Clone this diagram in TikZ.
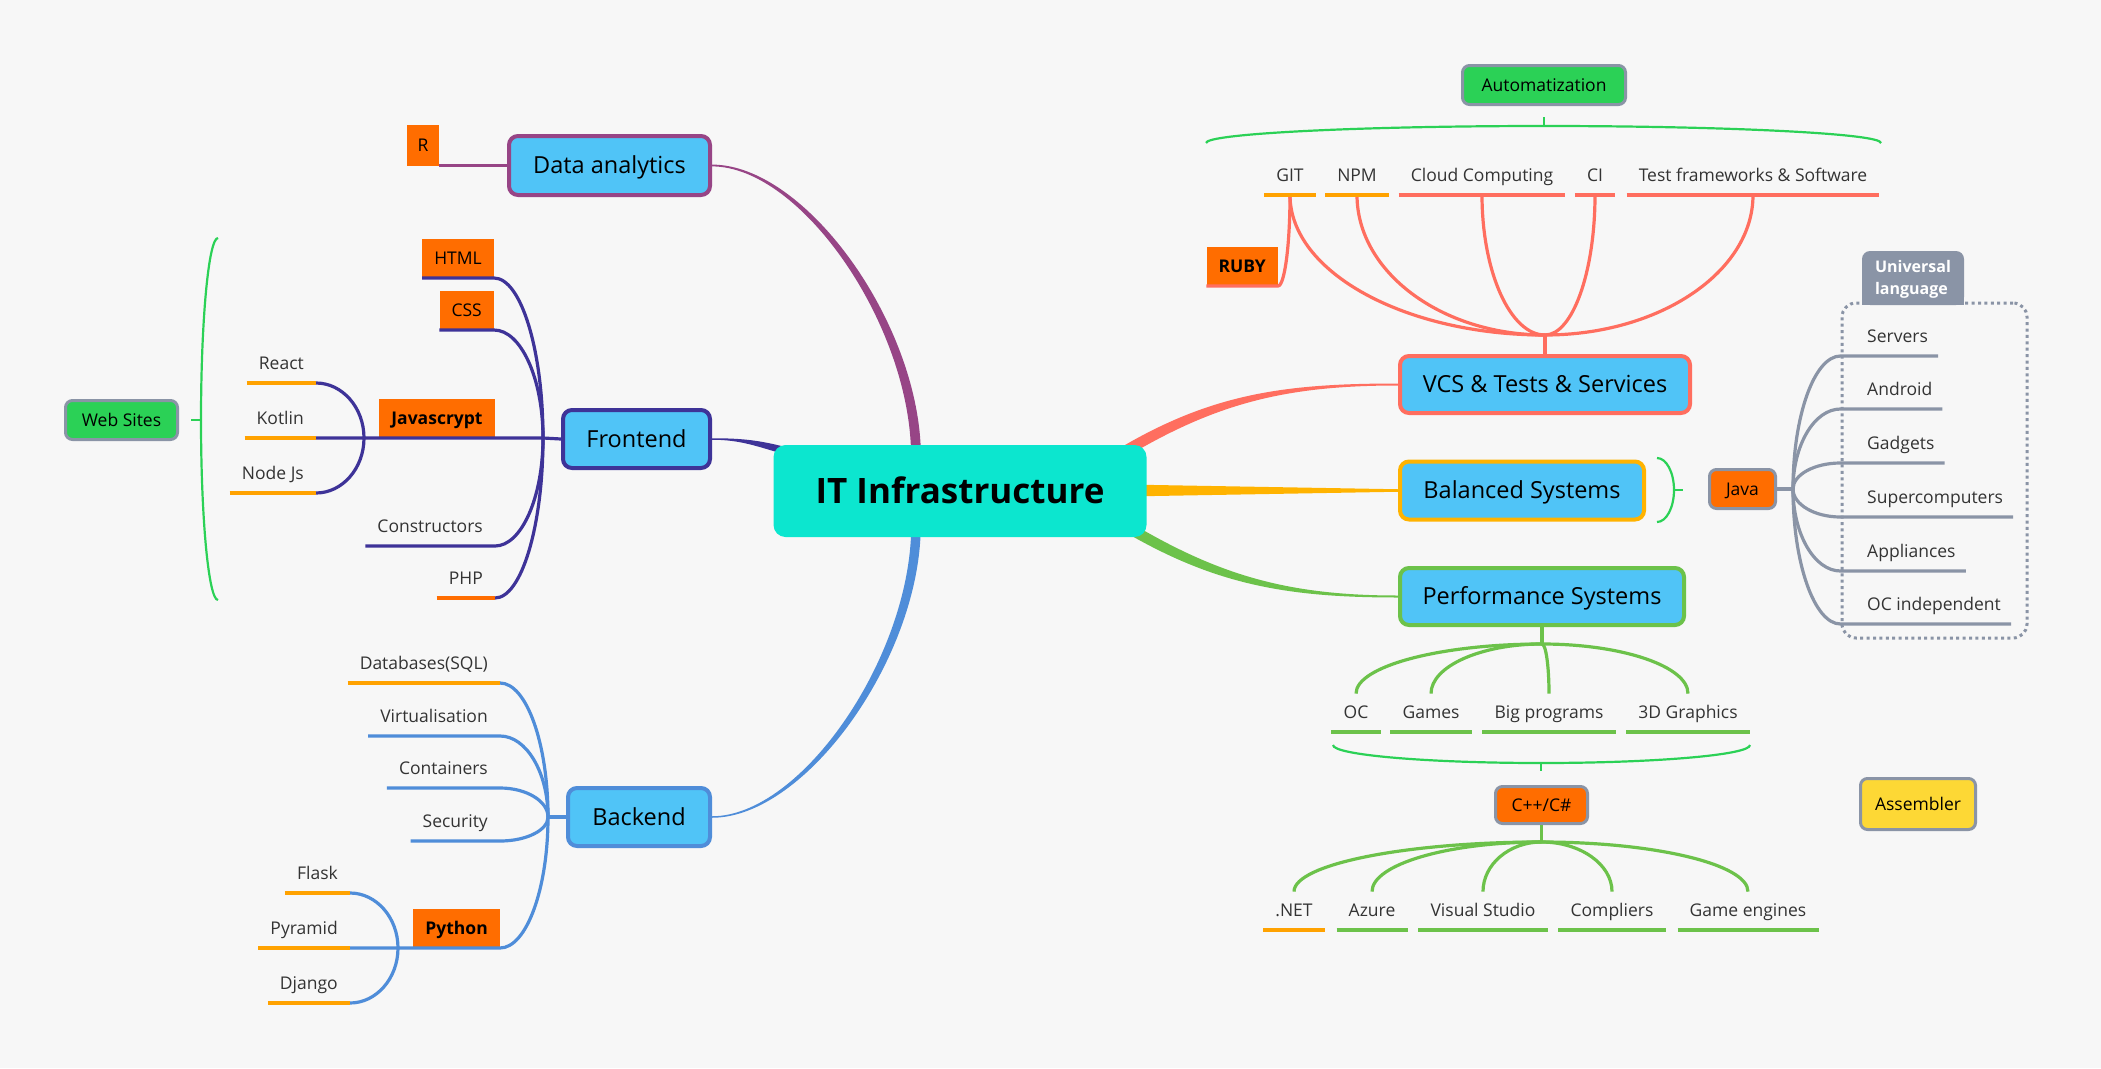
\documentclass[tikz,border=0pt]{standalone}
\usepackage{fontspec}
\setmainfont{Open Sans}
\usetikzlibrary{calc,backgrounds}
\definecolor{itBg}{HTML}{F7F7F7}
\definecolor{itCore}{HTML}{0CE6CF}
\definecolor{itBox}{HTML}{50C4F7}
\definecolor{itPlum}{HTML}{974586}
\definecolor{itIndigo}{HTML}{3E3398}
\definecolor{itBlue}{HTML}{4F8DD9}
\definecolor{itSalmon}{HTML}{FF6E5F}
\definecolor{itAmber}{HTML}{FFB300}
\definecolor{itGreen}{HTML}{6CC24A}
\definecolor{itLime}{HTML}{2BD156}
\definecolor{itOrange}{HTML}{FF6D00}
\definecolor{itGold}{HTML}{FFA200}
\definecolor{itSlate}{HTML}{8A94A6}
\definecolor{itYellow}{HTML}{FDD835}
\definecolor{itInk}{HTML}{333333}
\tikzset{
  core/.style={rounded corners=12pt, fill=itCore, minimum width=373pt, minimum height=92pt,
              text height=25pt, text depth=0pt, font=\fontsize{35}{40}\selectfont\bfseries},
  topic/.style={rounded corners=9pt, fill=itBox, line width=4pt, inner sep=0pt,
              text height=16.5pt, text depth=0pt, font=\fontsize{23.5}{28}\selectfont},
  tag/.style={fill=itOrange, inner xsep=12pt, inner ysep=0pt, minimum height=39pt,
              text height=12.5pt, text depth=0pt, font=\fontsize{17.5}{21}\selectfont},
  pill/.style={rounded corners=7pt, draw=itSlate, line width=3pt, inner sep=0pt,
              text height=12.5pt, text depth=0pt, font=\fontsize{17.5}{21}\selectfont},
  leaf/.style={inner xsep=12pt, inner ysep=6pt, text height=12.5pt, text depth=7pt,
              text=itInk, font=\fontsize{17.5}{21}\selectfont},
  dropleaf/.style={leaf, text height=19pt},
  twig/.style={line width=3.2pt},
  uline/.style={line width=3.6pt},
  brace/.style={draw=itLime, line width=2.2pt},
  elbowv/.style={to path={.. controls ($(\tikztostart)!#1!(\tikztostart|-\tikztotarget)$)
              and ($(\tikztotarget)!#1!(\tikztostart|-\tikztotarget)$) .. (\tikztotarget)}},
  elbowv/.default=0.55,
  elbowh/.style={to path={.. controls ($(\tikztostart)!#1!(\tikztostart-|\tikztotarget)$)
              and ($(\tikztotarget)!#1!(\tikztostart-|\tikztotarget)$) .. (\tikztotarget)}},
  elbowh/.default=0.55,
}

\begin{document}
\begin{tikzpicture}[x=1pt,y=1pt]
  \useasboundingbox (0,0) rectangle (2101,-1068);
  \node[core] (it) at (960,-491) {IT Infrastructure};
  \node[topic,draw=itPlum,minimum width=201pt,minimum height=59pt] (da) at (609.5,-165.5) {Data analytics};
  \node[topic,draw=itIndigo,minimum width=147pt,minimum height=58pt] (fe) at (636.5,-439) {Frontend};
  \node[topic,draw=itBlue,minimum width=142pt,minimum height=58pt] (be) at (639,-817) {Backend};
  \node[topic,draw=itSalmon,minimum width=290pt,minimum height=57pt] (vcs) at (1545,-384.5) {VCS \& Tests \& Services};
  \node[topic,draw=itAmber,minimum width=244pt,minimum height=58pt] (bal) at (1522,-490.5) {Balanced Systems};
  \node[topic,draw=itGreen,minimum width=284pt,minimum height=57pt] (perf) at (1542,-596.5) {Performance Systems};

  % left side
  \node[tag,inner xsep=0pt,minimum width=32pt,minimum height=41pt] (r) at (423,-145.5) {R};
  \node[tag,anchor=south east] (html) at (494,-278) {HTML};
  \node[tag,anchor=south east] (css) at (494,-330) {CSS};
  \node[tag,anchor=south,font=\fontsize{17.5}{21}\selectfont\bfseries] (js) at (437,-438) {Javascrypt};
  \coordinate (fej) at (543,-438);
  \coordinate (jsj) at (364,-438);
  \foreach \n/\y/\txt in {react/383/React, kotlin/438/Kotlin, nodejs/493/Node Js}
    \node[leaf,anchor=south east] (\n) at (316,-\y) {\txt};
  \foreach \n/\y/\txt in {ctor/546/Constructors, php/598/PHP}
    \node[leaf,anchor=south east] (\n) at (495,-\y) {\txt};
  \node[pill,fill=itLime,minimum width=112pt,minimum height=39pt] (web) at (121.5,-420) {Web Sites};
  \coordinate (wbt) at (218,-238);
  \coordinate (wbm) at (201,-420);
  \coordinate (wbb) at (218,-600);
  \coordinate (wbk) at (191,-420);

  \coordinate (bej) at (548,-817);
  \coordinate (pyj) at (398,-948);
  \foreach \n/\y/\txt in {db/683/Databases(SQL), virt/736/Virtualisation, cont/788/Containers, sec/841/Security}
    \node[leaf,anchor=south east] (\n) at (500,-\y) {\txt};
  \node[tag,anchor=south east,font=\fontsize{17.5}{21}\selectfont\bfseries] (py) at (500,-948) {Python};
  \foreach \n/\y/\txt in {flask/893/Flask, pyramid/948/Pyramid, django/1003/Django}
    \node[leaf,anchor=south east] (\n) at (350,-\y) {\txt};

  % right side
  \coordinate (vcsj) at ([yshift=19pt]vcs.north);
  \foreach \n/\x/\txt in {git/1290/GIT, npm/1357/NPM, cloud/1482/Cloud Computing, ci/1595/CI, tests/1753/Test frameworks \& Software}
    \node[leaf,anchor=south] (\n) at (\x,-195) {\txt};
  \node[tag,anchor=south east,font=\fontsize{17.5}{21}\selectfont\bfseries] (ruby) at (1278,-286) {RUBY};
  \node[pill,fill=itLime,minimum width=163pt,minimum height=39pt] (auto) at (1544,-85) {Automatization};
  \coordinate (abl) at (1206,-143);
  \coordinate (abm) at (1544,-126);
  \coordinate (abr) at (1881,-143);
  \coordinate (abk) at (1544,-117);

  \coordinate (pfj) at ([yshift=-17pt]perf.south);
  \foreach \n/\x/\txt in {oc/1356/OC, games/1431/Games, bigp/1549/Big programs, gfx/1688/3D Graphics}
    \node[dropleaf,anchor=south] (\n) at (\x,-732) {\txt};
  \coordinate (pbl) at (1333,-745);
  \coordinate (pbm) at (1541,-763);
  \coordinate (pbr) at (1750,-745);
  \coordinate (pbk) at (1541,-771);
  \node[pill,fill=itOrange,minimum width=92pt,minimum height=37pt] (cpp) at (1541.5,-805) {C++/C\#};
  \coordinate (cpj) at ([yshift=-17pt]cpp.south);
  \foreach \n/\x/\txt in {net/1294/.NET, azure/1372/Azure, vstudio/1483/Visual Studio, comp/1612/Compliers, geng/1748/Game engines}
    \node[dropleaf,anchor=south] (\n) at (\x,-930) {\txt};
  \node[pill,fill=itYellow,minimum width=115pt,minimum height=51pt] (asm) at (1918,-804) {Assembler};

  \coordinate (bbt) at (1657,-458);
  \coordinate (bbm) at (1674,-490);
  \coordinate (bbb) at (1657,-522);
  \coordinate (bbk) at (1683,-490);
  \node[pill,fill=itOrange,minimum width=66pt,minimum height=39pt] (java) at (1742.5,-489) {Java};
  \coordinate (javaj) at (1793,-489);
  \node[draw=itSlate,line width=3pt,dash pattern=on 3pt off 3.4pt,rounded corners=14pt,
        minimum width=185pt,minimum height=335pt] (ubox) at (1934.5,-470.5) {};
  \fill[itSlate,rounded corners=8pt] (1862,-251) rectangle (1964,-305);
  \fill[itSlate] (1862,-280) rectangle (1964,-305);
  \node[text=white,align=left,inner sep=0pt,font=\fontsize{16}{22}\selectfont\bfseries] (uhead) at (1913,-279) {Universal\\language};
  \foreach \n/\y/\txt in {srv/356/Servers, andr/409/Android, gadg/463/Gadgets, supc/517/Supercomputers, appl/571/Appliances, ocind/624/OC independent}
    \node[leaf,inner xsep=10pt,anchor=south west] (\n) at (1857,-\y) {\txt};

  % main branches
  \coordinate (da1) at ($(it.north)+(-48,-12)$);
  \coordinate (da2) at ($(it.north)+(-40,-12)$);
  \coordinate (be1) at ($(it.south)+(-48,12)$);
  \coordinate (be2) at ($(it.south)+(-40,12)$);
  \coordinate (fe1) at (790,-449);
  \coordinate (fe2) at (790,-455);
  \coordinate (vc1) at (1107,-457);
  \coordinate (vc2) at (1111,-465);
  \coordinate (bl1) at (1140,-486);
  \coordinate (bl2) at (1140,-495);
  \coordinate (pf1) at (1107,-520);
  \coordinate (pf2) at (1111,-512);
  \begin{scope}[on background layer]
    \fill[itBg] (0,0) rectangle (2101,-1068);
    \filldraw[itPlum,line width=1.8pt] (da1) to[elbowv=0.45] (da.east) to[elbowh=0.45] (da2) -- cycle;
    \filldraw[itBlue,line width=1.5pt] (be1) to[elbowv=0.45] (be.east) to[elbowh=0.45] (be2) -- cycle;
    \filldraw[itIndigo,line width=1.5pt] (fe1) to[out=165,in=0] (fe.east) to[out=0,in=165] (fe2) -- cycle;
    \filldraw[itSalmon,line width=2pt] (vc1) to[out=32,in=180] (vcs.west) to[out=180,in=32] (vc2) -- cycle;
    \filldraw[itAmber,line width=2.5pt] (bl1) -- (bal.west) -- (bl2) -- cycle;
    \filldraw[itGreen,line width=2pt] (pf1) to[out=-32,in=180] (perf.west) to[out=180,in=-32] (pf2) -- cycle;
  \end{scope}

  % frontend & data
  \draw[twig,itPlum] (da.west) -- (r.east |- da.west);
  \draw[twig,itIndigo] (fe.west) -- (fej) -- (jsj) -- (kotlin.south east);
  \foreach \n in {html,css,ctor}
    \draw[twig,itIndigo] (fej) to[elbowv] (\n.south east) -- (\n.south west);
  \draw[twig,itIndigo] (fej) to[elbowv] (php.south east);
  \draw[uline,itOrange] (php.south west) -- (php.south east);
  \foreach \n in {react,nodejs}
    \draw[twig,itIndigo] (jsj) to[elbowv] (\n.south east);
  \foreach \n in {react,kotlin,nodejs}
    \draw[uline,itGold] (\n.south west) -- (\n.south east);
  \draw[brace] (wbt) to[elbowh] (wbm) to[elbowv] (wbb);
  \draw[brace] (wbm) -- (wbk);

  % backend
  \draw[twig,itBlue] (be.west) -- (bej);
  \foreach \n in {virt,cont,sec}
    \draw[twig,itBlue] (bej) to[elbowv] (\n.south east) -- (\n.south west);
  \draw[twig,itBlue] (bej) to[elbowv] (db.south east);
  \draw[twig,itBlue] (bej) to[elbowv] (py.south east) -- (pyramid.south east);
  \foreach \n in {flask,django}
    \draw[twig,itBlue] (pyj) to[elbowv] (\n.south east);
  \foreach \n in {db,flask,pyramid,django}
    \draw[uline,itGold] (\n.south west) -- (\n.south east);

  % vcs
  \draw[twig,itSalmon] (vcs.north) -- (vcsj);
  \foreach \n in {git,npm,cloud,ci,tests}
    \draw[twig,itSalmon] (vcsj) to[elbowh] (\n.south);
  \draw[twig,itSalmon] (git.south) to[elbowv] (ruby.south east) -- (ruby.south west);
  \foreach \n in {cloud,ci,tests}
    \draw[uline,itSalmon] (\n.south west) -- (\n.south east);
  \foreach \n in {git,npm}
    \draw[uline,itGold] (\n.south west) -- (\n.south east);
  \draw[brace] (abl) to[elbowv] (abm) to[elbowh] (abr);
  \draw[brace] (abm) -- (abk);

  % performance
  \draw[twig,itGreen] (perf.south) -- (pfj);
  \foreach \n in {oc,games,bigp,gfx}{
    \draw[twig,itGreen] (pfj) to[elbowh] (\n.north);
    \draw[uline,itGreen] (\n.south west) -- (\n.south east);}
  \draw[brace] (pbl) to[elbowv] (pbm) to[elbowh] (pbr);
  \draw[brace] (pbm) -- (pbk);
  \draw[twig,itGreen] (cpp.south) -- (cpj);
  \foreach \n in {net,azure,vstudio,comp,geng}
    \draw[twig,itGreen] (cpj) to[elbowh] (\n.north);
  \draw[uline,itGold] (net.south west) -- (net.south east);
  \foreach \n in {azure,vstudio,comp,geng}
    \draw[uline,itGreen] (\n.south west) -- (\n.south east);

  % balanced
  \draw[brace] (bbt) to[elbowh] (bbm) to[elbowv] (bbb);
  \draw[brace] (bbm) -- (bbk);
  \draw[twig,itSlate] (java.east) -- (javaj);
  \foreach \n in {srv,andr,gadg,supc,appl,ocind}{
    \coordinate (\n-l) at (ubox.west |- \n.south);
    \draw[twig,itSlate] (javaj) to[elbowv] (\n-l) -- (\n.south east);}
\end{tikzpicture}
\end{document}
